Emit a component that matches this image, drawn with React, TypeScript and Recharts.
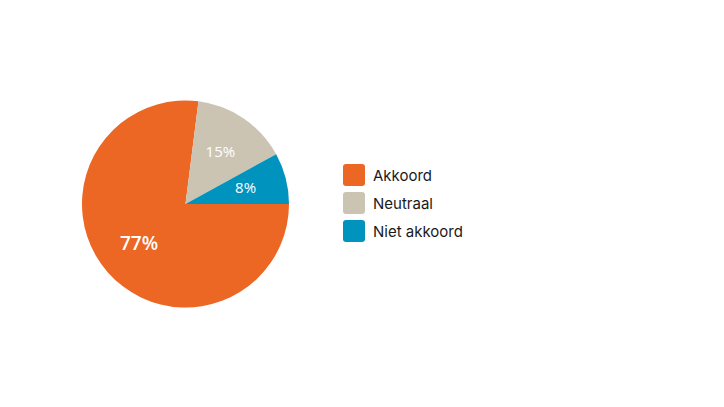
import React from 'react';
import { PieChart, Pie, Cell, Legend } from 'recharts';

const categories = ['Akkoord', 'Neutraal', 'Niet akkoord'];
const shares = [77, 15, 8];
const colors = ['#EC6624', '#CBC4B3', '#0093BE'];

const data = categories.map((name, i) => ({ name, value: shares[i] }));

const RADIAN = Math.PI / 180;

const renderLabel = (props: any) => {
  const { cx, cy, midAngle, value } = props;
  const r = 62;
  const x = cx + r * Math.cos(-midAngle * RADIAN);
  const y = cy + r * Math.sin(-midAngle * RADIAN) - 2;
  const big = value > 50;
  return (
    <text
      x={x}
      y={y}
      fill="#ffffff"
      textAnchor="middle"
      dominantBaseline="central"
      fontFamily="'Open Sans', sans-serif"
      fontSize={big ? 19 : 15}
      fontWeight={big ? 600 : 400}
    >
      {value}%
    </text>
  );
};

const renderLegend = () => (
  <div style={{ fontFamily: 'Inter, sans-serif', fontSize: 15, color: '#1a1a1a' }}>
    {categories.map((name, i) => (
      <div key={name} style={{ display: 'flex', alignItems: 'center', height: 28 }}>
        <span
          style={{
            display: 'inline-block',
            width: 22,
            height: 22,
            borderRadius: 3,
            background: colors[i],
            marginRight: 8,
          }}
        />
        <span>{name}</span>
      </div>
    ))}
  </div>
);

export default function App() {
  return (
    <div style={{ position: 'absolute', left: 0, top: 0, width: 724, height: 407, background: '#fff' }}>
      <PieChart width={724} height={407} margin={{ top: 0, right: 0, bottom: 0, left: 0 }}>
        <Pie
          data={data}
          dataKey="value"
          nameKey="name"
          cx={185.5}
          cy={204}
          outerRadius={103.5}
          startAngle={0}
          endAngle={-360}
          stroke="none"
          labelLine={false}
          label={renderLabel}
          isAnimationActive={false}
        >
          {data.map((d, i) => (
            <Cell key={d.name} fill={colors[i]} />
          ))}
        </Pie>
        <Legend
          content={renderLegend}
          wrapperStyle={{ position: 'absolute', left: 343, top: 161, width: 200 }}
        />
      </PieChart>
    </div>
  );
}
